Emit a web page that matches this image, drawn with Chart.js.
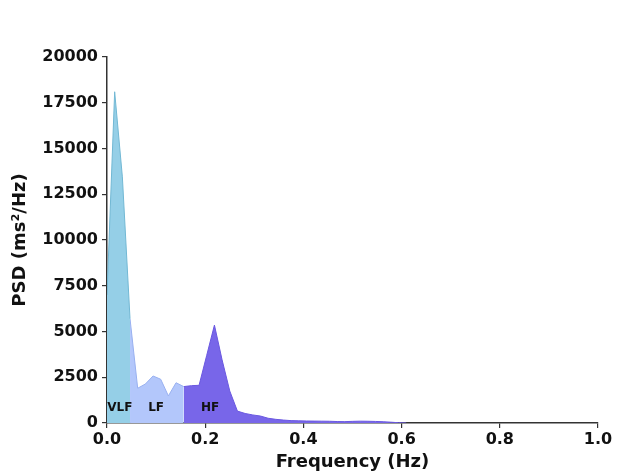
<!DOCTYPE html>
<html>
<head>
<meta charset="utf-8">
<script src="https://cdn.jsdelivr.net/npm/chart.js@4"></script>
<style>
  html, body { margin: 0; padding: 0; background: #fff; }
  #wrap { width: 634px; height: 476px; position: relative; }
</style>
</head>
<body>
<div id="wrap"><canvas id="psdChart" width="634" height="476"></canvas></div>
<script>
// PSD spectrum, split in three bands
const vlfFreq = [0, 0.0156, 0.0313, 0.0469];
const vlfPsd = [7000, 18100, 13450, 5700];

const lfFreq = [0.0469, 0.0625, 0.0781, 0.0938, 0.1094, 0.125, 0.1406, 0.1563];
const lfPsd = [5700, 1900, 2130, 2570, 2390, 1480, 2200, 1990];

const hfFreq = [0.1563, 0.1719, 0.1875, 0.2031, 0.2188, 0.2344, 0.25, 0.2656, 0.2813, 0.2969,
  0.3125, 0.3281, 0.3438, 0.3594, 0.375, 0.3906, 0.4063, 0.4219, 0.4375, 0.4531, 0.4688,
  0.4844, 0.5, 0.5156, 0.5313, 0.5469, 0.5625, 0.5781, 0.5938, 0.6094];
const hfPsd = [1990, 2040, 2060, 3700, 5350, 3450, 1750, 650, 520, 440,
  380, 260, 200, 160, 130, 120, 110, 105, 100, 95, 80,
  75, 90, 100, 95, 85, 70, 45, 15, 0];

const bandLabels = ["VLF", "LF", "HF"];
const bandLabelPos = [[0.026, 850], [0.1, 800], [0.21, 850]];

const xTicks = [0, 0.2, 0.4, 0.6, 0.8, 1.0];

const FONT = "'DejaVu Sans', sans-serif";
const AXIS = "#333";

function toPoints(xs, ys) {
  return xs.map((x, i) => ({ x, y: ys[i] }));
}

function band(label, xs, ys, fill, line) {
  return {
    label,
    data: toPoints(xs, ys),
    backgroundColor: fill,
    borderColor: line,
    borderWidth: 1,
    fill: "origin",
    pointRadius: 0,
    tension: 0,
  };
}

const bandText = {
  id: "bandText",
  afterDatasetsDraw(chart) {
    const { ctx, scales } = chart;
    ctx.save();
    ctx.font = `bold 12px ${FONT}`;
    ctx.fillStyle = "#111";
    ctx.textAlign = "center";
    ctx.textBaseline = "middle";
    bandLabels.forEach((t, i) => {
      const [fx, fy] = bandLabelPos[i];
      ctx.fillText(t, scales.x.getPixelForValue(fx), scales.y.getPixelForValue(fy));
    });
    ctx.restore();
  },
};

new Chart(document.getElementById("psdChart").getContext("2d"), {
  type: "line",
  data: {
    datasets: [
      band("VLF", vlfFreq, vlfPsd, "#95cfe7", "#72b8d4"),
      band("LF", lfFreq, lfPsd, "#b3c7fb", "#98b0f0"),
      band("HF", hfFreq, hfPsd, "#7866e9", "#6a58e0"),
    ],
  },
  options: {
    responsive: false,
    animation: false,
    layout: { padding: { top: 57, right: 36, left: 10, bottom: 3 } },
    plugins: { legend: { display: false }, tooltip: { enabled: false } },
    scales: {
      x: {
        type: "linear",
        min: 0,
        max: 1,
        afterBuildTicks: (s) => { s.ticks = xTicks.map((v) => ({ value: v })); },
        afterFit: (s) => { s.height = 50; },
        ticks: {
          color: "#111",
          font: { family: FONT, size: 16, weight: "bold" },
          padding: 2,
          maxRotation: 0,
          callback: (v) => Number(v).toFixed(1),
        },
        grid: { drawOnChartArea: false, tickLength: 5, color: AXIS, lineWidth: 1.2 },
        border: { color: AXIS, width: 1.5 },
        title: {
          display: true,
          text: "Frequency (Hz)",
          color: "#111",
          font: { family: FONT, size: 18, weight: "bold" },
          padding: { top: 0, bottom: 0 },
        },
      },
      y: {
        min: 0,
        max: 20000,
        afterFit: (s) => { s.width = 97; },
        ticks: {
          stepSize: 2500,
          color: "#111",
          font: { family: FONT, size: 16, weight: "bold" },
          padding: 4,
          callback: (v) => String(v),
        },
        grid: { drawOnChartArea: false, tickLength: 5, color: AXIS, lineWidth: 1.2 },
        border: { color: AXIS, width: 1.5 },
        title: {
          display: true,
          text: "PSD (ms²/Hz)",
          color: "#111",
          font: { family: FONT, size: 18, weight: "bold" },
          padding: { top: 0, bottom: 2 },
        },
      },
    },
  },
  plugins: [bandText],
});
</script>
</body>
</html>
